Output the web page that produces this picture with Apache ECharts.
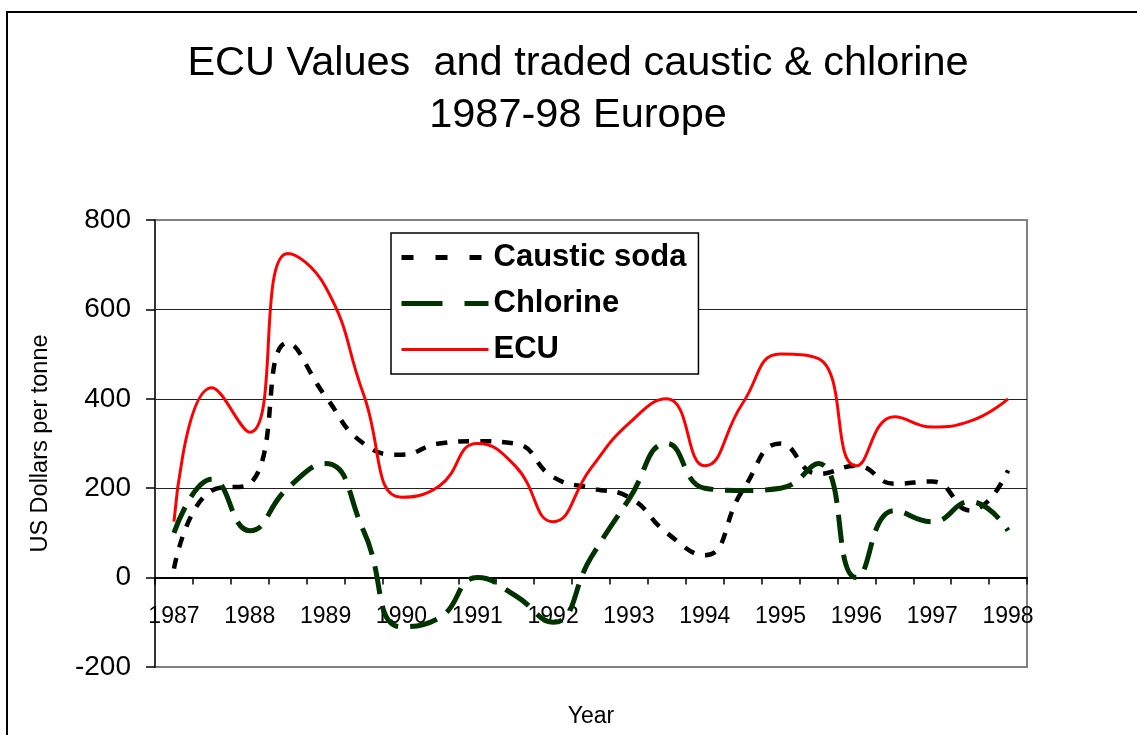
<!DOCTYPE html>
<html>
<head>
<meta charset="utf-8">
<title>ECU Values and traded caustic & chlorine</title>
<script src="https://cdn.jsdelivr.net/npm/echarts@6/dist/echarts.min.js"></script>
<style>
  html, body { margin: 0; padding: 0; background: #fff; }
  #chart { width: 1137px; height: 735px; }
</style>
</head>
<body>
<div id="chart"></div>
<script>
  // half-year points, only the whole years get a label
  const periods = [
    '1987', '1987.5', '1988', '1988.5', '1989', '1989.5', '1990', '1990.5',
    '1991', '1991.5', '1992', '1992.5', '1993', '1993.5', '1994', '1994.5',
    '1995', '1995.5', '1996', '1996.5', '1997', '1997.5', '1998',
  ];
  const causticSoda = [20, 195, 210, 525, 405, 300, 275, 300, 305, 300, 225, 200,
    180, 100, 50, 195, 300, 232, 250, 210, 215, 150, 240];
  const chlorine = [100, 220, 105, 200, 255, 105, -110, -90, 0, -40, -100, 45,
    175, 300, 200, 195, 200, 255, 0, 150, 125, 170, 105];
  const ecu = [125, 425, 325, 725, 650, 410, 180, 205, 300, 250, 125, 245,
    345, 400, 250, 390, 500, 490, 250, 360, 337, 350, 400];
  const yTicks = { min: -200, max: 800, interval: 200 };

  const font = '"Liberation Sans", Arial, sans-serif';
  const chart = echarts.init(document.getElementById('chart'));

  chart.setOption({
    animation: false,
    backgroundColor: '#fff',
    textStyle: { fontFamily: font, color: '#000' },
    graphic: [
      {
        type: 'rect',
        shape: { x: 7, y: 12, width: 1200, height: 800 },
        style: { fill: 'none', stroke: '#000', lineWidth: 2 },
        silent: true,
      },
    ],
    title: {
      text: 'ECU Values  and traded caustic & chlorine\n1987-98 Europe',
      left: 578,
      top: 38,
      textAlign: 'center',
      padding: 0,
      textStyle: {
        fontFamily: font,
        fontSize: 41.5,
        fontWeight: 'normal',
        lineHeight: 52,
        color: '#000',
      },
    },
    legend: {
      orient: 'vertical',
      left: 391,
      top: 233,
      padding: [9, 12, 9, 8],
      itemGap: 15,
      itemWidth: 87,
      itemHeight: 14,
      borderColor: '#000',
      borderWidth: 1.5,
      backgroundColor: '#fff',
      itemStyle: { opacity: 0 },
      textStyle: { fontFamily: font, fontSize: 31, fontWeight: 'bold', color: '#000' },
      data: [
        { name: 'Caustic soda', lineStyle: { width: 5, type: [12, 22] } },
        { name: 'Chlorine', lineStyle: { width: 5, type: [41, 22] } },
        { name: 'ECU', lineStyle: { width: 3 } },
      ],
    },
    grid: {
      left: 155,
      top: 220,
      width: 872,
      height: 447,
      show: true,
      borderColor: '#808080',
      borderWidth: 2,
      containLabel: false,
      outerBoundsMode: 'none',
    },
    xAxis: {
      type: 'category',
      data: periods,
      boundaryGap: true,
      name: 'Year',
      nameLocation: 'middle',
      nameGap: 38,
      nameTextStyle: { fontFamily: font, fontSize: 23, color: '#000' },
      axisLine: { onZero: true, lineStyle: { color: '#000', width: 2 } },
      axisTick: { show: true, interval: 0, length: 7, lineStyle: { color: '#000', width: 1.5 } },
      // labels sit under the zero line, not under the plot edge
      axisLabel: { interval: 1, margin: -62, fontSize: 23, color: '#000', fontFamily: font },
      splitLine: { show: false },
    },
    yAxis: {
      type: 'value',
      min: yTicks.min,
      max: yTicks.max,
      interval: yTicks.interval,
      name: 'US Dollars per tonne',
      nameLocation: 'middle',
      nameRotate: 90,
      nameGap: 102,
      nameTextStyle: { fontFamily: font, fontSize: 23.5, color: '#000' },
      axisLine: { show: true, lineStyle: { color: '#333', width: 2 } },
      axisTick: { show: true, length: 9, lineStyle: { color: '#000', width: 1.5 } },
      axisLabel: { margin: 24, fontSize: 28, color: '#000', fontFamily: font },
      splitLine: {
        show: true,
        showMinLine: false,
        showMaxLine: false,
        lineStyle: { color: '#222', width: 1 },
      },
    },
    series: [
      {
        name: 'Caustic soda',
        type: 'line',
        data: causticSoda,
        smooth: 0.5,
        symbol: 'none',
        color: '#000',
        lineStyle: { color: '#000', width: 4.5, type: [11, 11] },
        z: 3,
      },
      {
        name: 'Chlorine',
        type: 'line',
        data: chlorine,
        smooth: 0.5,
        symbol: 'none',
        color: '#003300',
        lineStyle: { color: '#003300', width: 5, type: [28, 12] },
        z: 3,
      },
      {
        name: 'ECU',
        type: 'line',
        data: ecu,
        smooth: 0.5,
        symbol: 'none',
        color: '#ff0000',
        lineStyle: { color: '#ff0000', width: 3 },
        z: 4,
      },
    ],
  });
</script>
</body>
</html>
